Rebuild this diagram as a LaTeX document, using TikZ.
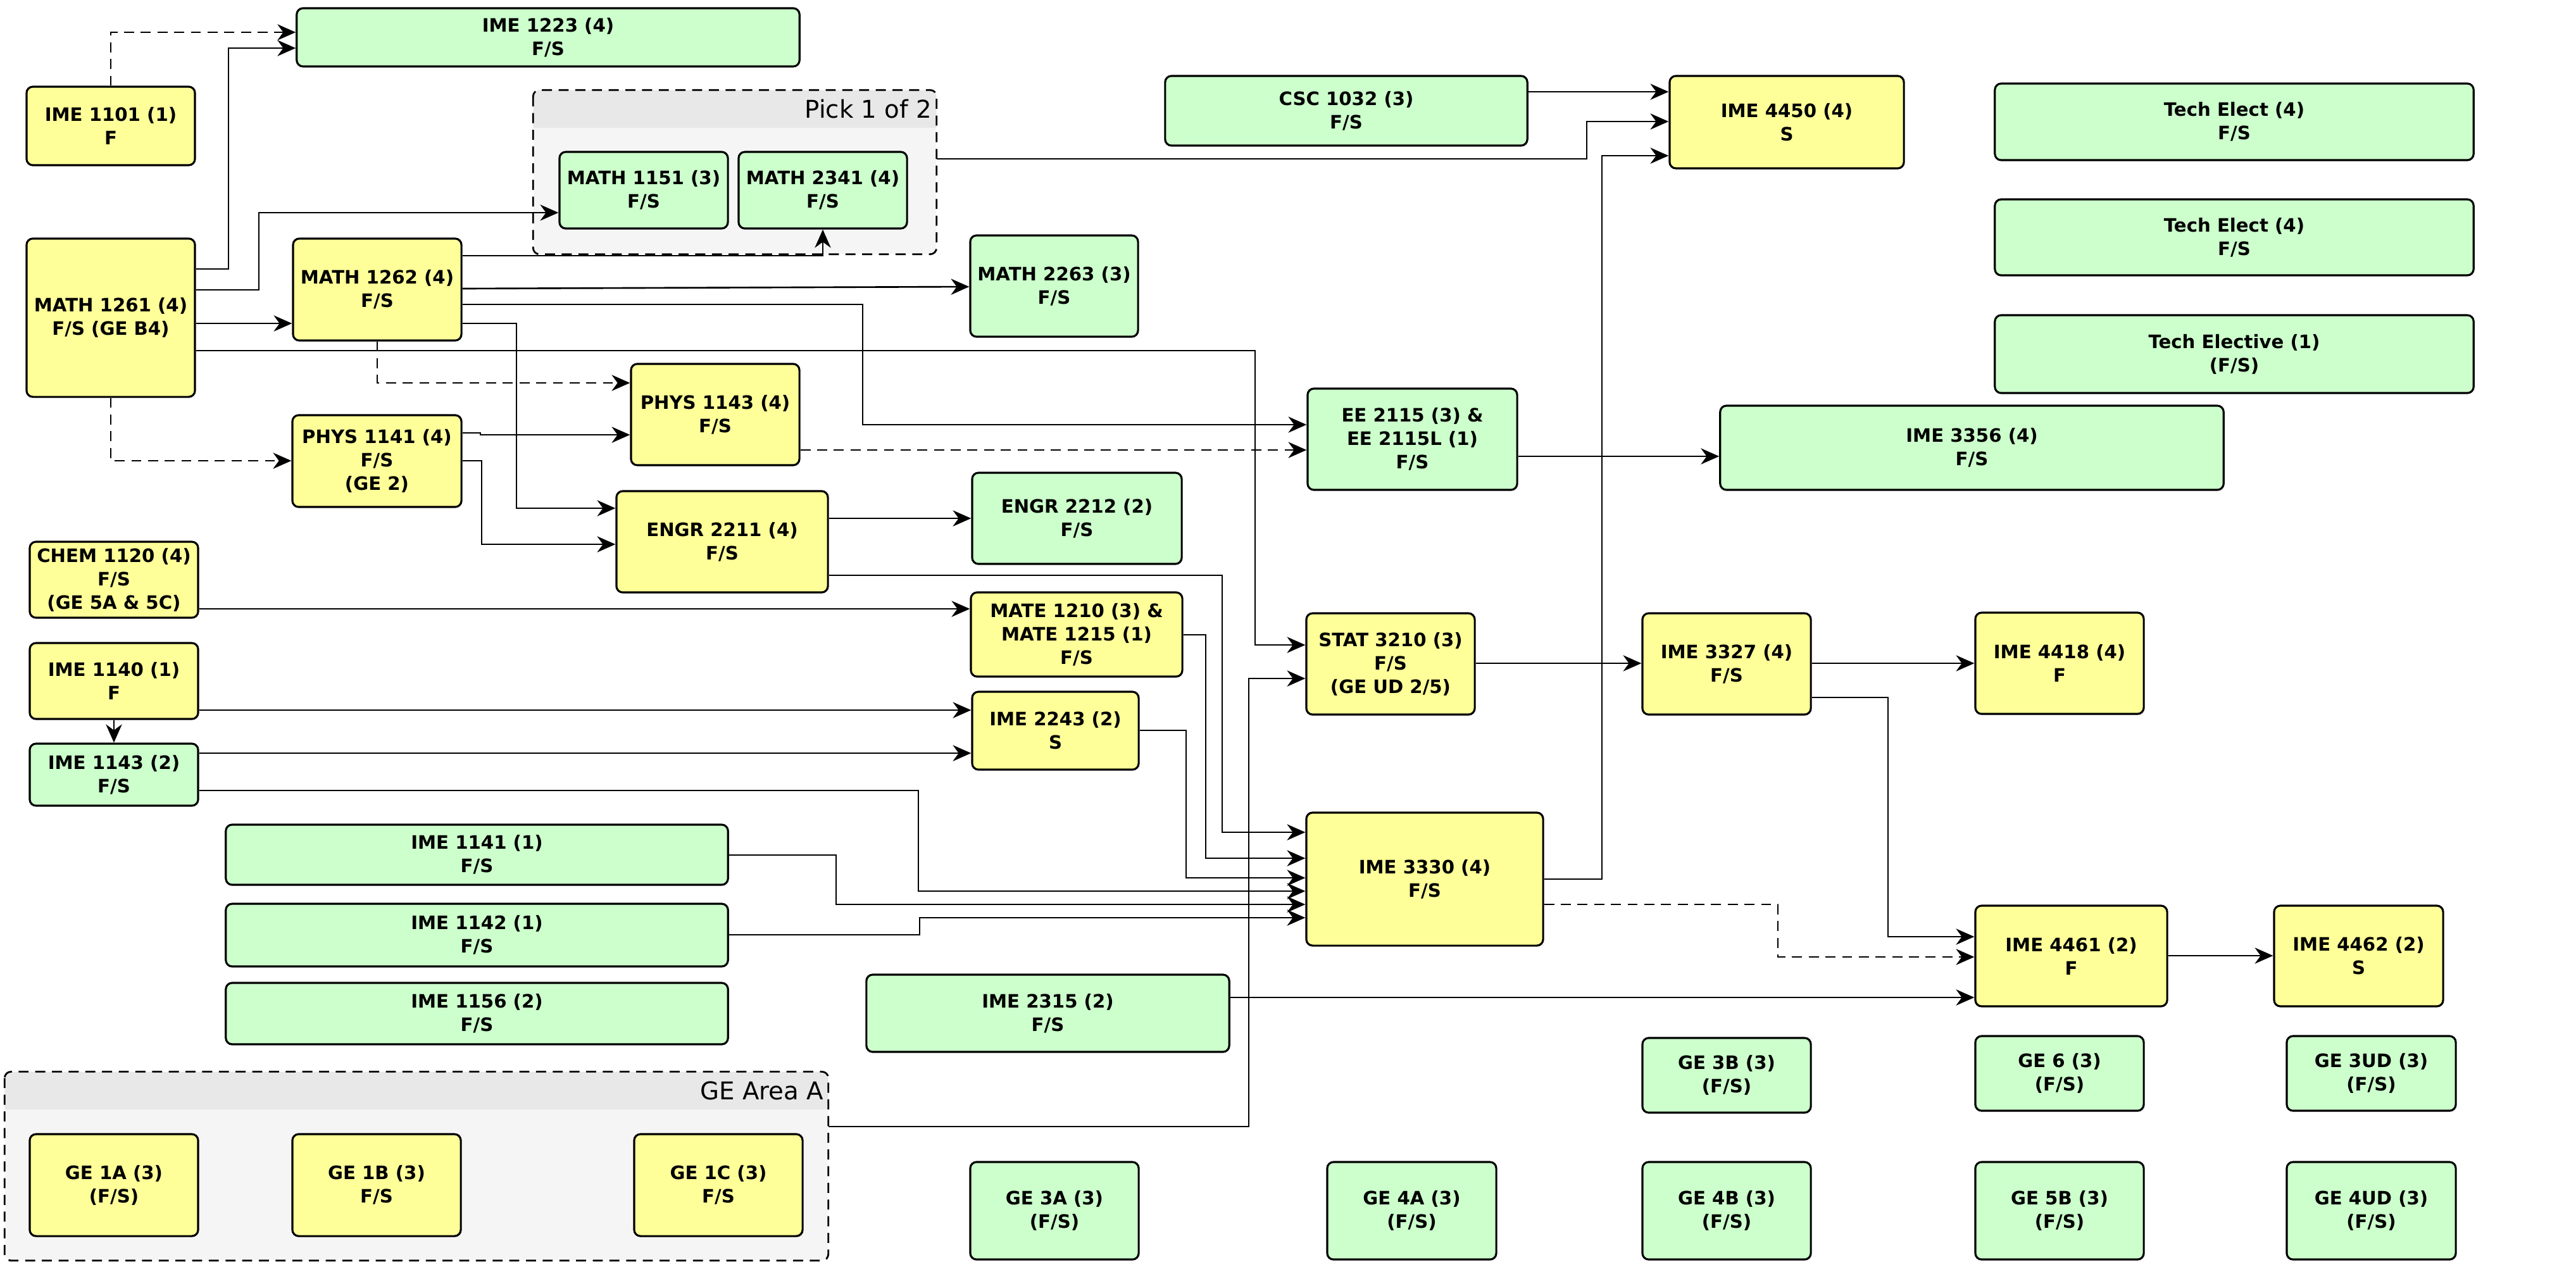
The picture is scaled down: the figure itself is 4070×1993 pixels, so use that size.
\documentclass[tikz,border=0pt]{standalone}
\usepackage{fontspec}
\setmainfont{DejaVu Sans}
\usetikzlibrary{arrows.meta,fit}
\definecolor{crsgreen}{HTML}{CCFFCC}
\definecolor{crsyellow}{HTML}{FFFF99}
\definecolor{grpfill}{HTML}{F5F5F5}
\definecolor{grphead}{HTML}{E8E8E8}
\tikzset{
  crs/.style={draw, line width=0.9pt, rounded corners=1mm, inner sep=0pt, align=center,
    minimum width=2.66cm, minimum height=1.6cm,
    font=\fontsize{8.3}{10.5}\selectfont\bfseries},
  grn/.style={crs, fill=crsgreen},
  yel/.style={crs, fill=crsyellow},
  grp/.style={fill=grpfill, rounded corners=1mm, inner sep=0pt},
  grpline/.style={line width=0.8pt, dash pattern=on 4.5pt off 3pt, rounded corners=1mm},
  grplbl/.style={inner sep=2pt, font=\fontsize{11}{13}\selectfont},
  link/.style={draw, line width=0.75pt, -{Stealth[length=8.2pt,width=7.2pt,inset=2.6pt]}},
  dlink/.style={link, dash pattern=on 4.5pt off 3pt}
}
\begin{document}
\begin{tikzpicture}[x=0.01cm, y=-0.01cm]
  \path[use as bounding box, fill=white] (0,0) rectangle (4070,1993);

  \node[grp, fit={(843,143) (1479,401)}] (pick) {};
  \begin{scope}
    \clip (pick.north west) rectangle (pick.east |- 0,201);
    \fill[grphead, rounded corners=1mm] (pick.north west) rectangle (pick.south east);
  \end{scope}
  \draw[grpline] (pick.north west) rectangle (pick.south east);
  \node[grplbl, anchor=east] (picklbl) at (pick.east |- 0,172) {Pick 1 of 2};

  \node[grp, fit={(8,1694) (1308,1991)}] (gea) {};
  \begin{scope}
    \clip (gea.north west) rectangle (gea.east |- 0,1752);
    \fill[grphead, rounded corners=1mm] (gea.north west) rectangle (gea.south east);
  \end{scope}
  \draw[grpline] (gea.north west) rectangle (gea.south east);
  \node[grplbl, anchor=east] (gealbl) at (gea.east |- 0,1723) {GE Area A};

  \node[grn, minimum width=7.94cm, minimum height=0.92cm] (ime1223) at (866,59) {IME 1223 (4)\\F/S};
  \node[yel, minimum height=1.24cm] (ime1101) at (175,199) {IME 1101 (1)\\F};
  \node[grn, minimum height=1.21cm] (math1151) at (1017,300.5) {MATH 1151 (3)\\F/S};
  \node[grn, minimum height=1.21cm] (math2341) at (1300,300.5) {MATH 2341 (4)\\F/S};
  \node[grn, minimum width=5.72cm, minimum height=1.1cm] (csc1032) at (2127,175) {CSC 1032 (3)\\F/S};
  \node[yel, minimum width=3.7cm, minimum height=1.46cm] (ime4450) at (2823,193) {IME 4450 (4)\\S};
  \node[grn, minimum width=7.56cm, minimum height=1.21cm] (tech1) at (3530,192.5) {Tech Elect (4)\\F/S};
  \node[grn, minimum width=7.56cm, minimum height=1.2cm] (tech2) at (3530,375) {Tech Elect (4)\\F/S};
  \node[grn, minimum width=7.56cm, minimum height=1.23cm] (tech3) at (3530,559.5) {Tech Elective (1)\\(F/S)};
  \node[yel, minimum height=2.5cm] (math1261) at (175,502) {MATH 1261 (4)\\F/S (GE B4)};
  \node[yel, minimum height=1.61cm] (math1262) at (596,457.5) {MATH 1262 (4)\\F/S};
  \node[grn, minimum width=2.65cm] (math2263) at (1665.5,452) {MATH 2263 (3)\\F/S};
  \node[yel] (phys1143) at (1130,655) {PHYS 1143 (4)\\F/S};
  \node[grn, minimum width=3.31cm] (ee2115) at (2231.5,694) {EE 2115 (3) \&\\EE 2115L (1)\\F/S};
  \node[grn, minimum width=7.95cm, minimum height=1.33cm] (ime3356) at (3115.5,707.5) {IME 3356 (4)\\F/S};
  \node[yel, minimum width=2.67cm, minimum height=1.45cm] (phys1141) at (595.5,728.5) {PHYS 1141 (4)\\F/S\\(GE 2)};
  \node[yel, minimum width=3.34cm] (engr2211) at (1141,856) {ENGR 2211 (4)\\F/S};
  \node[grn, minimum width=3.31cm, minimum height=1.44cm] (engr2212) at (1701.5,819) {ENGR 2212 (2)\\F/S};
  \node[yel, minimum height=1.2cm] (chem1120) at (180,916) {CHEM 1120 (4)\\F/S\\(GE 5A \& 5C)};
  \node[yel, minimum width=3.34cm, minimum height=1.33cm] (mate1210) at (1701,1002.5) {MATE 1210 (3) \&\\MATE 1215 (1)\\F/S};
  \node[yel] (stat3210) at (2197,1049) {STAT 3210 (3)\\F/S\\(GE UD 2/5)};
  \node[yel] (ime3327) at (2728,1049) {IME 3327 (4)\\F/S};
  \node[yel] (ime4418) at (3254,1048) {IME 4418 (4)\\F};
  \node[yel, minimum height=1.2cm] (ime1140) at (180,1076) {IME 1140 (1)\\F};
  \node[yel, minimum width=2.63cm, minimum height=1.23cm] (ime2243) at (1667.5,1154.5) {IME 2243 (2)\\S};
  \node[grn, minimum height=0.98cm] (ime1143) at (180,1224) {IME 1143 (2)\\F/S};
  \node[yel, minimum width=3.74cm, minimum height=2.1cm] (ime3330) at (2251,1389) {IME 3330 (4)\\F/S};
  \node[grn, minimum width=7.93cm, minimum height=0.95cm] (ime1141) at (753.5,1350.5) {IME 1141 (1)\\F/S};
  \node[grn, minimum width=7.93cm, minimum height=0.99cm] (ime1142) at (753.5,1477.5) {IME 1142 (1)\\F/S};
  \node[grn, minimum width=7.93cm, minimum height=0.97cm] (ime1156) at (753.5,1601.5) {IME 1156 (2)\\F/S};
  \node[grn, minimum width=5.73cm, minimum height=1.22cm] (ime2315) at (1655.5,1601) {IME 2315 (2)\\F/S};
  \node[yel, minimum width=3.03cm, minimum height=1.59cm] (ime4461) at (3272.5,1510.5) {IME 4461 (2)\\F};
  \node[yel, minimum width=2.67cm, minimum height=1.59cm] (ime4462) at (3726.5,1510.5) {IME 4462 (2)\\S};
  \node[grn, minimum height=1.18cm] (ge3b) at (2728,1699) {GE 3B (3)\\(F/S)};
  \node[grn, minimum height=1.18cm] (ge6) at (3254,1696) {GE 6 (3)\\(F/S)};
  \node[grn, minimum width=2.67cm, minimum height=1.18cm] (ge3ud) at (3746.5,1696) {GE 3UD (3)\\(F/S)};
  \node[yel, minimum height=1.61cm] (ge1a) at (180,1872.5) {GE 1A (3)\\(F/S)};
  \node[yel, minimum height=1.61cm] (ge1b) at (595,1872.5) {GE 1B (3)\\F/S};
  \node[yel, minimum height=1.61cm] (ge1c) at (1135,1872.5) {GE 1C (3)\\F/S};
  \node[grn, minimum height=1.54cm] (ge3a) at (1666,1913) {GE 3A (3)\\(F/S)};
  \node[grn, minimum width=2.67cm, minimum height=1.54cm] (ge4a) at (2230.5,1913) {GE 4A (3)\\(F/S)};
  \node[grn, minimum height=1.54cm] (ge4b) at (2728,1913) {GE 4B (3)\\(F/S)};
  \node[grn, minimum height=1.54cm] (ge5b) at (3254,1913) {GE 5B (3)\\(F/S)};
  \node[grn, minimum width=2.67cm, minimum height=1.54cm] (ge4ud) at (3746.5,1913) {GE 4UD (3)\\(F/S)};

  \draw[dlink] (ime1101.north) |- (ime1223.west |- 0,51);
  \draw[link] (math1261.east |- 0,425) -| (361,76) -- (ime1223.west |- 0,76);
  \draw[link] (math1261.east |- 0,458) -| (409,336) -- (math1151.west |- 0,336);
  \draw[link] (math1261.east |- 0,511) -- (math1262.west |- 0,511);
  \draw[link] (math1261.east |- 0,554) -| (1983,1019) -- (stat3210.west |- 0,1019);
  \draw[dlink] (math1261.south) |- (phys1141.west |- 0,728);
  \draw[link] (math1262.east |- 0,404) -| (math2341.south);
  \draw[link] (math1262.east |- 0,456) -- (math2263.west |- 0,453);
  \draw[link] (math1262.east |- 0,481) -| (1363,671) -- (ee2115.west |- 0,671);
  \draw[link] (math1262.east |- 0,511) -| (816,803) -- (engr2211.west |- 0,803);
  \draw[dlink] (math1262.south) |- (phys1143.west |- 0,605);
  \draw[link] (pick.east |- 0,251) -| (2507,192) -- (ime4450.west |- 0,192);
  \draw[link] (csc1032.east |- 0,145) -- (ime4450.west |- 0,145);
  \draw[link] (phys1141.east |- 0,684) -| (759,687) -- (phys1143.west |- 0,687);
  \draw[link] (phys1141.east |- 0,728) -| (761,860) -- (engr2211.west |- 0,860);
  \draw[dlink] (phys1143.east |- 0,711) -- (ee2115.west |- 0,711);
  \draw[link] (ee2115.east |- 0,721) -- (ime3356.west |- 0,721);
  \draw[link] (engr2211.east |- 0,819) -- (engr2212.west |- 0,819);
  \draw[link] (engr2211.east |- 0,909) -| (1931,1315) -- (ime3330.west |- 0,1315);
  \draw[link] (chem1120.east |- 0,962) -- (mate1210.west |- 0,962);
  \draw[link] (mate1210.east |- 0,1003) -| (1905,1356) -- (ime3330.west |- 0,1356);
  \draw[link] (ime1140.east |- 0,1122) -- (ime2243.west |- 0,1122);
  \draw[link] (ime1140.south) -- (ime1143.north);
  \draw[link] (ime1143.east |- 0,1190) -- (ime2243.west |- 0,1190);
  \draw[link] (ime1143.east |- 0,1249) -| (1451,1408) -- (ime3330.west |- 0,1408);
  \draw[link] (ime2243.east |- 0,1154) -| (1874,1387) -- (ime3330.west |- 0,1387);
  \draw[link] (ime1141.east |- 0,1351) -| (1321,1429) -- (ime3330.west |- 0,1429);
  \draw[link] (ime1142.east |- 0,1477) -| (1453,1450) -- (ime3330.west |- 0,1450);
  \draw[link] (ime2315.east |- 0,1576) -- (ime4461.west |- 0,1576);
  \draw[link] (gea.east |- 0,1780) -| (1973,1072) -- (stat3210.west |- 0,1072);
  \draw[link] (stat3210.east |- 0,1048) -- (ime3327.west |- 0,1048);
  \draw[link] (ime3327.east |- 0,1048) -- (ime4418.west |- 0,1048);
  \draw[link] (ime3327.east |- 0,1102) -| (2983,1480) -- (ime4461.west |- 0,1480);
  \draw[link] (ime3330.east |- 0,1389) -| (2531,246) -- (ime4450.west |- 0,246);
  \draw[dlink] (ime3330.east |- 0,1429) -| (2809,1512) -- (ime4461.west |- 0,1512);
  \draw[link] (ime4461.east |- 0,1510) -- (ime4462.west |- 0,1510);
\end{tikzpicture}
\end{document}
